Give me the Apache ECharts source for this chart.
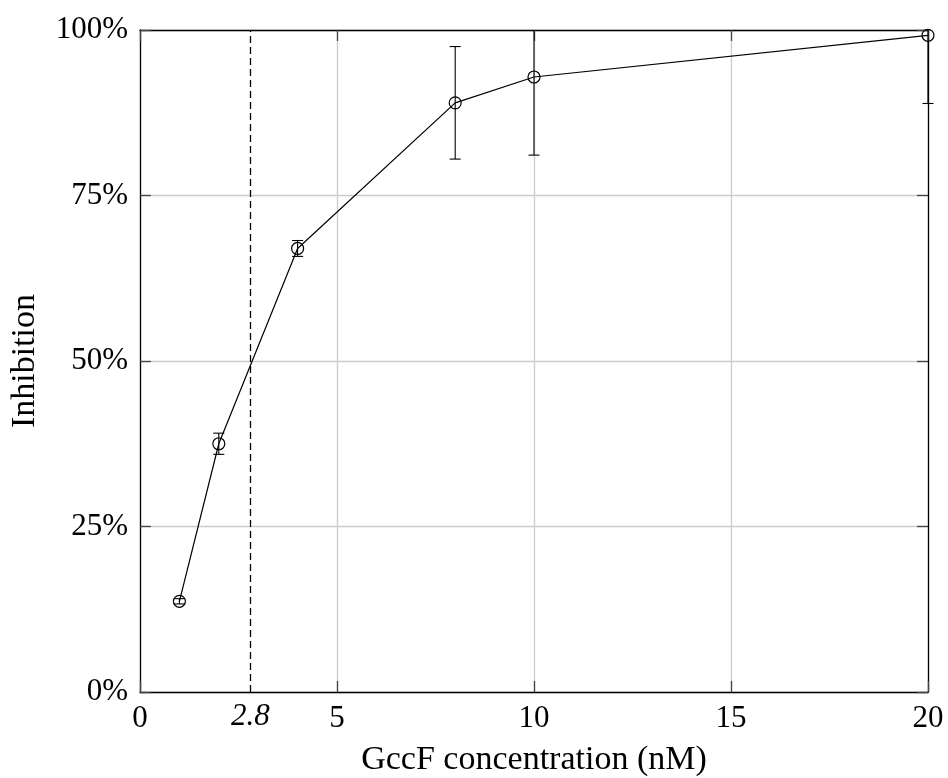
<!DOCTYPE html>
<html>
<head>
<meta charset="utf-8">
<script src="https://cdn.jsdelivr.net/npm/echarts@6/dist/echarts.min.js"></script>
<style>
  html, body { margin: 0; padding: 0; background: #fff; }
  #myChart { width: 948px; height: 778px; }
</style>
</head>
<body>
<div id="myChart"></div>
<script>
// concentration (nM) / inhibition (%) / error (%)
var concentration = [1, 2, 4, 8, 10, 20];
var inhibition = [13.7, 37.5, 67.0, 89.0, 92.9, 99.2];
var inhibitionErr = [0.4, 1.6, 1.2, 8.5, 11.8, 10.3];
var ic50 = 2.8;

var FONT = 'Liberation Serif';

var lineData = [];
var errData = [];
for (var i = 0; i < concentration.length; i++) {
    lineData.push([concentration[i], inhibition[i]]);
    errData.push([concentration[i], inhibition[i] - inhibitionErr[i], inhibition[i] + inhibitionErr[i]]);
}

var dom = document.getElementById('myChart');
var myChart = echarts.init(dom);

// error bars, clipped to the plot area (no cap where clipped)
function errorBar(params, api) {
    var cs = params.coordSys;
    var x = api.value(0);
    var lo = api.coord([x, api.value(1)]);
    var hi = api.coord([x, api.value(2)]);
    var top = Math.max(hi[1], cs.y);
    var bottom = Math.min(lo[1], cs.y + cs.height);
    var w = 5.5;
    var st = { stroke: '#000', lineWidth: 1.1 };
    var children = [{
        type: 'line',
        shape: { x1: lo[0], y1: bottom, x2: lo[0], y2: top },
        style: st
    }];
    if (hi[1] >= cs.y) {
        children.push({ type: 'line', shape: { x1: hi[0] - w, y1: hi[1], x2: hi[0] + w, y2: hi[1] }, style: st });
    }
    if (lo[1] <= cs.y + cs.height) {
        children.push({ type: 'line', shape: { x1: lo[0] - w, y1: lo[1], x2: lo[0] + w, y2: lo[1] }, style: st });
    }
    return { type: 'group', children: children };
}

var axisLineStyle = { color: '#000', width: 1.3 };
var tickStyle = { color: '#444', width: 1.3 };

option = {
    animation: false,
    backgroundColor: '#fff',
    grid: {
        left: 140,
        right: 20,
        top: 30,
        bottom: 86,
        containLabel: false,
        outerBoundsMode: 'none'
    },
    xAxis: [{
        type: 'value',
        min: 0,
        max: 20,
        interval: 5,
        name: 'GccF concentration (nM)',
        nameLocation: 'middle',
        nameGap: 51,
        nameTextStyle: { color: '#000', fontFamily: FONT, fontSize: 34 },
        axisLine: { show: true, onZero: false, lineStyle: axisLineStyle },
        axisTick: { show: true, inside: true, length: 11, lineStyle: tickStyle },
        splitLine: { show: true, lineStyle: { color: '#cccccc', width: 1.3 } },
        axisLabel: {
            color: '#000',
            fontFamily: FONT,
            fontSize: 31,
            margin: 11
        }
    }, {
        type: 'value',
        position: 'top',
        min: 0,
        max: 20,
        interval: 5,
        axisLine: { show: true, onZero: false, lineStyle: axisLineStyle },
        axisTick: { show: true, inside: true, length: 11, lineStyle: tickStyle },
        splitLine: { show: false },
        axisLabel: { show: false }
    }],
    yAxis: [{
        type: 'value',
        min: 0,
        max: 100,
        interval: 25,
        name: 'Inhibition',
        nameLocation: 'middle',
        nameGap: 98,
        nameTextStyle: { color: '#000', fontFamily: FONT, fontSize: 34 },
        axisLine: { show: true, onZero: false, lineStyle: axisLineStyle },
        axisTick: { show: true, inside: true, length: 11, lineStyle: tickStyle },
        splitLine: { show: true, lineStyle: { color: '#cccccc', width: 1.3 } },
        axisLabel: {
            color: '#000',
            fontFamily: FONT,
            fontSize: 31,
            margin: 12,
            formatter: '{value}%'
        }
    }, {
        type: 'value',
        position: 'right',
        min: 0,
        max: 100,
        interval: 25,
        axisLine: { show: true, onZero: false, lineStyle: axisLineStyle },
        axisTick: { show: true, inside: true, length: 11, lineStyle: tickStyle },
        splitLine: { show: false },
        axisLabel: { show: false }
    }],
    series: [{
        name: 'IC50',
        type: 'line',
        data: [],
        markLine: {
            silent: true,
            symbol: ['none', 'none'],
            lineStyle: { color: '#000', type: [7, 4], width: 1.3 },
            label: {
                show: true,
                position: 'start',
                distance: 9,
                formatter: String(ic50),
                color: '#000',
                fontFamily: FONT,
                fontStyle: 'italic',
                fontSize: 31
            },
            data: [{ xAxis: ic50 }]
        }
    }, {
        name: 'error',
        type: 'custom',
        renderItem: errorBar,
        data: errData,
        z: 3
    }, {
        name: 'Inhibition',
        type: 'line',
        data: lineData,
        symbol: 'circle',
        symbolSize: 12,
        clip: false,
        lineStyle: { color: '#000', width: 1.2 },
        itemStyle: { color: 'rgba(0,0,0,0)', borderColor: '#000', borderWidth: 1.2 },
        z: 4
    }]
};
myChart.setOption(option, true);
</script>
</body>
</html>
